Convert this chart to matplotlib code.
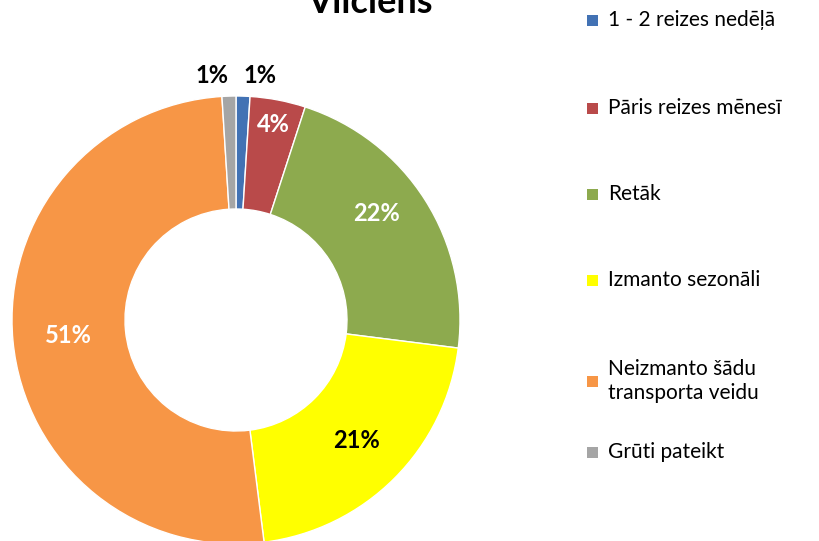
import numpy as np
import matplotlib.pyplot as plt
from matplotlib.patches import Rectangle

plt.rcParams['font.family'] = ['Lato', 'DejaVu Sans']

title = "Vilciens"
categories = ["1 - 2 reizes nedēļā", "Pāris reizes mēnesī", "Retāk",
              "Izmanto sezonāli", "Neizmanto šādu\ntransporta veidu", "Grūti pateikt"]
values = [1, 4, 22, 21, 51, 1]
colors = ["#4272B4", "#B94A4A", "#8DAA4E", "#FFFF00", "#F79646", "#A5A5A5"]
label_colors = ["black", "white", "white", "black", "white", "black"]

W, H = 819, 541
fig = plt.figure(figsize=(W / 100, H / 100), dpi=100)
ax = fig.add_axes([0, 0, 1, 1])

cx, cy, R = 236, H - 320, 224
ax.pie(values, colors=colors, startangle=90, counterclock=False,
       radius=R, center=(cx, cy),
       wedgeprops=dict(width=113, edgecolor='white', linewidth=1))
ax.set_xlim(0, W)
ax.set_ylim(0, H)
ax.set_aspect('equal')
ax.axis('off')

# slice labels (radial factor + small nudges in pixels)
total = sum(values)
cum = np.cumsum([0] + values[:-1])
rfac = [1.09, 0.89, 0.78, 0.76, 0.75, 1.09]
nudge = [(16, 0), (0, 0), (-7, 13), (0, 0), (0, 0), (-16, 0)]
for v, c0, rf, (dx, dy), lc in zip(values, cum, rfac, nudge, label_colors):
    ang = np.deg2rad(90 - 360 * (c0 + v / 2) / total)
    x = cx + rf * R * np.cos(ang) + dx
    y = cy + rf * R * np.sin(ang) + dy
    ax.text(x, y, f"{v}%", ha='center', va='center', fontsize=17,
            fontweight='bold', color=lc)

fig.text(370 / W, 1 - 13 / H, title, ha='center', va='baseline',
         fontsize=26, fontweight='bold')

# legend
leg_y = [20, 108, 194, 280, 381, 452]
for lab, col, ly in zip(categories, colors, leg_y):
    ax.add_patch(Rectangle((587, H - ly - 5.5), 11, 11, facecolor=col,
                           edgecolor='none'))
    ax.text(608, H - ly, lab, ha='left', va='center', fontsize=15,
            linespacing=1.3)

fig.savefig("out.png", dpi=100)
